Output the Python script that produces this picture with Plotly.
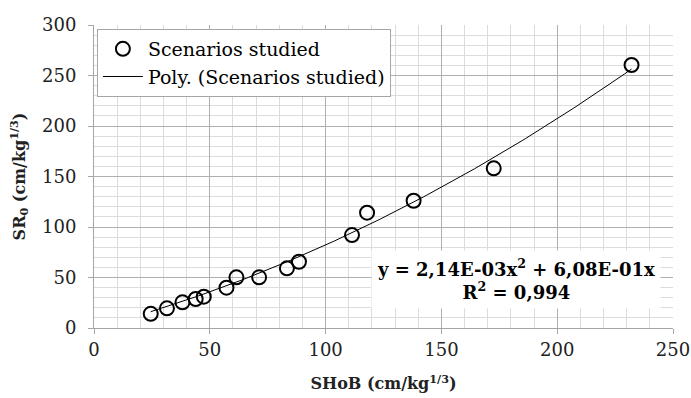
import numpy as np
import plotly.graph_objects as go

# Data
shob = [24.5, 31.5, 38.2, 43.9, 47.4, 57.2, 61.5, 71.3, 83.3, 88.5, 111.4, 117.9, 138.0, 172.6, 232.1]
sr0 = [14.0, 19.5, 25.4, 28.7, 31.0, 39.9, 50.2, 50.2, 59.1, 65.6, 92.0, 114.2, 126.0, 158.1, 260.4]

# Polynomial trendline coefficients (as displayed on chart)
coef_a = 2.14e-3
coef_b = 6.08e-1

x_ticks = [0, 50, 100, 150, 200, 250]
y_ticks = [0, 50, 100, 150, 200, 250, 300]

xs = np.linspace(min(shob), max(shob), 200)
ys = coef_a * xs**2 + coef_b * xs

font_family = "DejaVu Serif"

fig = go.Figure()
fig.add_trace(go.Scatter(
    x=shob, y=sr0, mode="markers", name="Scenarios studied",
    marker=dict(symbol="circle-open", size=14, color="black", line=dict(width=2, color="black")),
))
fig.add_trace(go.Scatter(
    x=xs, y=ys, mode="lines", name="Poly. (Scenarios studied)",
    line=dict(color="black", width=1),
))

fig.add_annotation(
    x=182, y=48, xref="x", yref="y",
    text="<b>y = 2,14E-03x<sup>2</sup> + 6,08E-01x<br>R<sup>2</sup> = 0,994</b>",
    showarrow=False, bgcolor="white", borderpad=5,
    font=dict(family=font_family, size=18, color="black"), align="center",
)

axis_common = dict(
    showline=True, linecolor="#a6a6a6", linewidth=1,
    showgrid=True, gridcolor="#b0b0b0", gridwidth=1,
    ticks="outside", ticklen=5, tickcolor="#a6a6a6",
    tickfont=dict(family=font_family, size=18, color="#222222"),
    zeroline=False, automargin=False,
    minor=dict(dtick=10, showgrid=True, gridcolor="#dcdcdc", gridwidth=1),
)

fig.update_xaxes(
    range=[0, 250], tickvals=x_ticks, **axis_common,
    title=dict(text="<b>SHoB (cm/kg<sup>1/3</sup>)</b>", font=dict(family=font_family, size=16, color="#222222"), standoff=19),
)
fig.update_yaxes(
    range=[0, 300], tickvals=y_ticks, ticklabelstandoff=8, **axis_common,
    title=dict(text="<b>SR<sub>0</sub> (cm/kg<sup>1/3</sup>)</b>", font=dict(family=font_family, size=16, color="#222222"), standoff=12),
)

fig.update_layout(
    width=691, height=398,
    margin=dict(l=94, r=18, t=25, b=70),
    plot_bgcolor="white", paper_bgcolor="white",
    font=dict(family=font_family),
    showlegend=True,
    legend=dict(
        x=0.005, y=0.987, xanchor="left", yanchor="top",
        bgcolor="white", bordercolor="#a6a6a6", borderwidth=1,
        font=dict(family=font_family, size=19, color="black"),
        tracegroupgap=0, itemwidth=40,
    ),
)

fig.write_html("out.html", config={"displayModeBar": False},
               post_script="document.body.style.margin='0';")
